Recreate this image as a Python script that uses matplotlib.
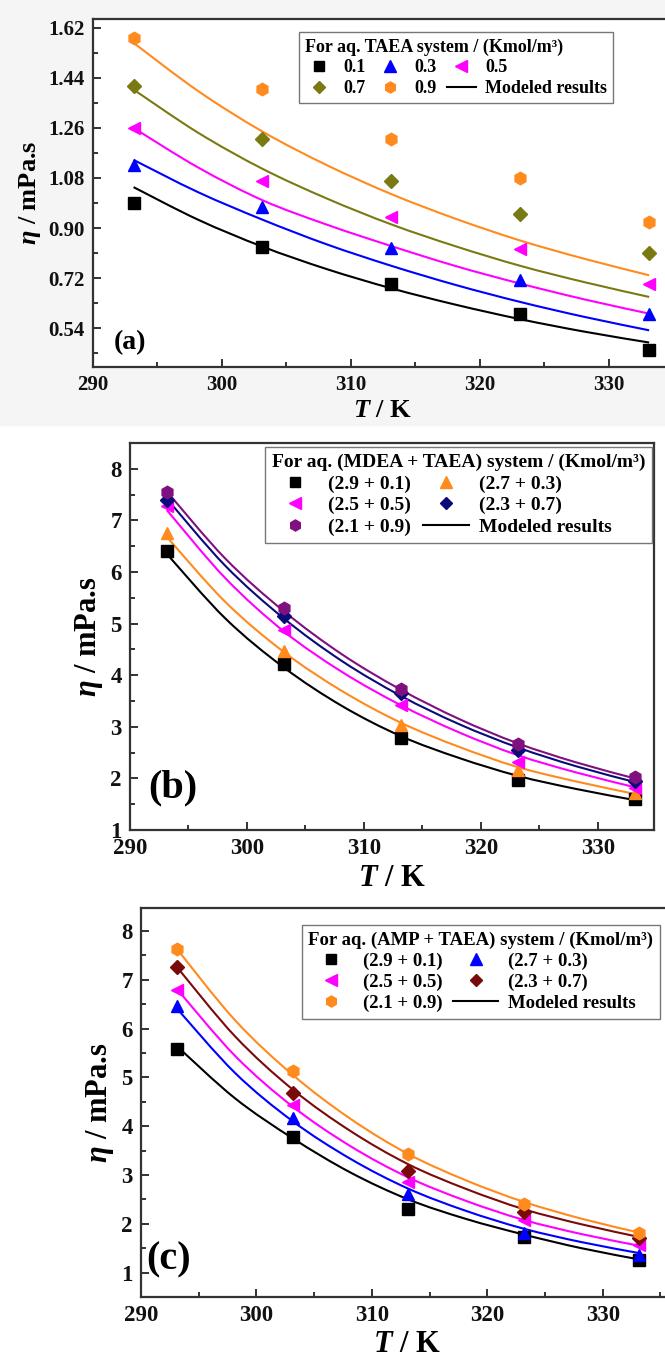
import matplotlib
matplotlib.use("Agg")
import matplotlib.pyplot as plt
from matplotlib.lines import Line2D
from matplotlib.patches import Rectangle, PathPatch
from matplotlib.path import Path
from matplotlib.ticker import MultipleLocator

plt.rcParams['font.family'] = ['Liberation Serif', 'DejaVu Serif']
plt.rcParams['font.weight'] = 'bold'
plt.rcParams['mathtext.fontset'] = 'custom'
plt.rcParams['mathtext.rm'] = 'Liberation Serif:bold'
plt.rcParams['mathtext.it'] = 'Liberation Serif:italic:bold'
plt.rcParams['mathtext.bf'] = 'Liberation Serif:bold'

# temperatures of the measurements and of the model curves (K)
T_exp = [293.15, 303.15, 313.15, 323.15, 333.15]
T_mod = [293.15, 298.15, 303.15, 308.15, 313.15, 318.15, 323.15, 328.15, 333.15]

# (a) aq. TAEA
a_labels = ['0.1', '0.3', '0.5', '0.7', '0.9']
a_exp = [
    [0.991, 0.830, 0.700, 0.592, 0.460],
    [1.127, 0.974, 0.827, 0.712, 0.592],
    [1.260, 1.070, 0.941, 0.823, 0.700],
    [1.412, 1.221, 1.070, 0.950, 0.811],
    [1.582, 1.400, 1.221, 1.081, 0.920],
]
a_mod = [
    [1.047, 0.930, 0.833, 0.752, 0.683, 0.624, 0.572, 0.527, 0.488],
    [1.145, 1.029, 0.930, 0.841, 0.764, 0.695, 0.634, 0.580, 0.532],
    [1.260, 1.118, 1.000, 0.912, 0.835, 0.763, 0.700, 0.643, 0.592],
    [1.398, 1.243, 1.113, 1.006, 0.913, 0.834, 0.764, 0.705, 0.652],
    [1.566, 1.393, 1.247, 1.126, 1.022, 0.933, 0.855, 0.789, 0.730],
]

# (b) aq. MDEA + TAEA
b_labels = ['(2.9 + 0.1)', '(2.7 + 0.3)', '(2.5 + 0.5)', '(2.3 + 0.7)', '(2.1 + 0.9)']
b_exp = [
    [6.41, 4.21, 2.79, 1.97, 1.61],
    [6.75, 4.47, 3.04, 2.16, 1.71],
    [7.27, 4.88, 3.42, 2.32, 1.81],
    [7.40, 5.15, 3.65, 2.55, 1.94],
    [7.56, 5.31, 3.74, 2.66, 2.02],
]
b_mod = [
    [6.35, 5.10, 4.15, 3.40, 2.82, 2.395, 2.05, 1.795, 1.58],
    [6.68, 5.42, 4.45, 3.69, 3.08, 2.61, 2.22, 1.94, 1.70],
    [7.20, 5.88, 4.85, 4.06, 3.42, 2.89, 2.45, 2.115, 1.83],
    [7.42, 6.12, 5.10, 4.27, 3.60, 3.05, 2.60, 2.235, 1.93],
    [7.56, 6.26, 5.24, 4.40, 3.72, 3.15, 2.68, 2.31, 2.00],
]

# (c) aq. AMP + TAEA
c_labels = ['(2.9 + 0.1)', '(2.7 + 0.3)', '(2.5 + 0.5)', '(2.3 + 0.7)', '(2.1 + 0.9)']
c_exp = [
    [5.58, 3.78, 2.30, 1.72, 1.26],
    [6.46, 4.16, 2.61, 1.82, 1.36],
    [6.80, 4.43, 2.86, 2.08, 1.57],
    [7.26, 4.68, 3.09, 2.25, 1.70],
    [7.62, 5.13, 3.44, 2.41, 1.82],
]
c_mod = [
    [5.63, 4.57, 3.75, 3.05, 2.50, 2.10, 1.78, 1.50, 1.27],
    [6.40, 5.09, 4.10, 3.33, 2.72, 2.265, 1.90, 1.625, 1.40],
    [6.80, 5.44, 4.40, 3.59, 2.95, 2.47, 2.08, 1.79, 1.55],
    [7.25, 5.84, 4.75, 3.90, 3.22, 2.715, 2.30, 1.99, 1.73],
    [7.62, 6.17, 5.05, 4.15, 3.43, 2.89, 2.45, 2.105, 1.82],
]

markers = ['s', '^', '<', 'D', 'h']
msizes = [8, 9, 9, 7.5, 9]
a_colors = ['black', '#0000ff', '#ff00ff', '#7a7a12', '#ff8a1e']
b_colors = ['black', '#ff8a1e', '#ff00ff', '#0a0a7a', '#80107f']
c_colors = ['black', '#0000ff', '#ff00ff', '#7a0a0a', '#ff8a1e']

W, H = 665, 1360
fig = plt.figure(figsize=(W / 100, H / 100), dpi=100, facecolor='white')
# light grey backdrop behind the top panel
fig.patches.append(Rectangle((0, 1 - 425 / H), 1, 425 / H, transform=fig.transFigure,
                             color='#f5f5f5', zorder=-10))


def px_axes(left, top, right, bottom):
    return fig.add_axes([left / W, 1 - bottom / H, (right - left) / W, (bottom - top) / H])


def smooth_curve(ax, xs, ys, color):
    # bezier curve through every model point (catmull-rom tangents)
    n = len(xs)
    verts = [(xs[0], ys[0])]
    codes = [Path.MOVETO]
    for i in range(n - 1):
        i0, i3 = max(i - 1, 0), min(i + 2, n - 1)
        c1 = (xs[i] + (xs[i + 1] - xs[i0]) / 6, ys[i] + (ys[i + 1] - ys[i0]) / 6)
        c2 = (xs[i + 1] - (xs[i3] - xs[i]) / 6, ys[i + 1] - (ys[i3] - ys[i]) / 6)
        verts += [c1, c2, (xs[i + 1], ys[i + 1])]
        codes += [Path.CURVE4] * 3
    ax.add_patch(PathPatch(Path(verts, codes), fill=False, edgecolor=color, lw=1.5, zorder=2))


def draw_panel(ax, exp, mod, colors, labels, title, ncol, order, xmax, ylim, ymaj, yfmt,
               tag, tag_xy, tag_size, tick_size, lab_size, leg_size, leg_box, hlen):
    for i in range(5):
        smooth_curve(ax, T_mod, mod[i], colors[i])
        ax.plot(T_exp, exp[i], ls='none', marker=markers[i], ms=msizes[i],
                color=colors[i], zorder=3)
    ax.set_xlim(290, xmax)
    ax.set_ylim(*ylim)
    ax.xaxis.set_major_locator(MultipleLocator(10))
    ax.xaxis.set_minor_locator(MultipleLocator(5))
    ax.yaxis.set_major_locator(MultipleLocator(ymaj))
    ax.yaxis.set_minor_locator(MultipleLocator(ymaj / 2))
    ax.yaxis.set_major_formatter(yfmt)
    ax.tick_params(which='both', direction='in', width=1.3, color='#222222',
                   labelcolor='#111111', labelsize=tick_size, pad=6)
    ax.tick_params(which='major', length=6)
    ax.tick_params(which='minor', length=3.5)
    for s in ax.spines.values():
        s.set_linewidth(1.6)
        s.set_color('#333333')
    for t in ax.get_xticklabels() + ax.get_yticklabels():
        t.set_fontweight('bold')
    ax.set_xlabel(r'$T$ / K', fontsize=lab_size, fontweight='bold', labelpad=3)
    ax.set_ylabel(r'$\eta$ / mPa.s', fontsize=lab_size, fontweight='bold', labelpad=4)
    ax.text(tag_xy[0], tag_xy[1], tag, transform=ax.transAxes, fontsize=tag_size,
            fontweight='bold', ha='left', va='center')

    handles = [Line2D([], [], ls='none', marker=markers[i], ms=msizes[i] - 1,
                      color=colors[i]) for i in range(5)]
    handles.append(Line2D([], [], color='black', lw=1.5))
    names = labels + ['Modeled results']
    leg = ax.legend([handles[k] for k in order], [names[k] for k in order],
                    title=title, ncol=ncol, loc='upper right', bbox_to_anchor=leg_box,
                    frameon=True, fancybox=False, edgecolor='#777777', framealpha=1,
                    prop={'weight': 'bold', 'size': leg_size},
                    title_fontproperties={'weight': 'bold', 'size': leg_size},
                    handlelength=hlen, handletextpad=0.5, columnspacing=0.6,
                    labelspacing=0.2, borderpad=0.35, borderaxespad=0)
    leg._legend_box.align = 'left'
    leg.get_frame().set_linewidth(1.0)
    return ax


ax_a = px_axes(93, 19, 673, 367)
ax_a.set_facecolor('white')
draw_panel(ax_a, a_exp, a_mod, a_colors, a_labels,
           'For aq. TAEA system / (Kmol/m\u00b3)', 3, [0, 3, 1, 4, 2, 5],
           335.0, (0.40, 1.652), 0.18, '{x:.2f}', '(a)', (0.035, 0.07), 20, 15, 19, 13,
           (0.897, 1 - 13 / 348), 1.6)
ax_a.spines['right'].set_visible(False)

ax_b = px_axes(130, 443, 654, 830)
draw_panel(ax_b, b_exp, b_mod, b_colors, b_labels,
           'For aq. (MDEA + TAEA) system / (Kmol/m\u00b3)', 2, [0, 2, 4, 1, 3, 5],
           334.8, (1, 8.5), 1, '{x:.0f}', '(b)', (0.035, 0.11), 29, 16.5, 22, 14,
           (0.996, 1 - 4 / 387), 2.4)

ax_c = px_axes(141, 908, 672, 1297)
draw_panel(ax_c, c_exp, c_mod, c_colors, c_labels,
           'For aq. (AMP + TAEA) system / (Kmol/m\u00b3)', 2, [0, 2, 4, 1, 3, 5],
           336.0, (0.5, 8.47), 1, '{x:.0f}', '(c)', (0.01, 0.095), 29, 16.5, 22, 13.5,
           (0.977, 1 - 17 / 389), 2.4)
ax_c.spines['right'].set_visible(False)

fig.savefig('out.png', dpi=100, facecolor=fig.get_facecolor())
